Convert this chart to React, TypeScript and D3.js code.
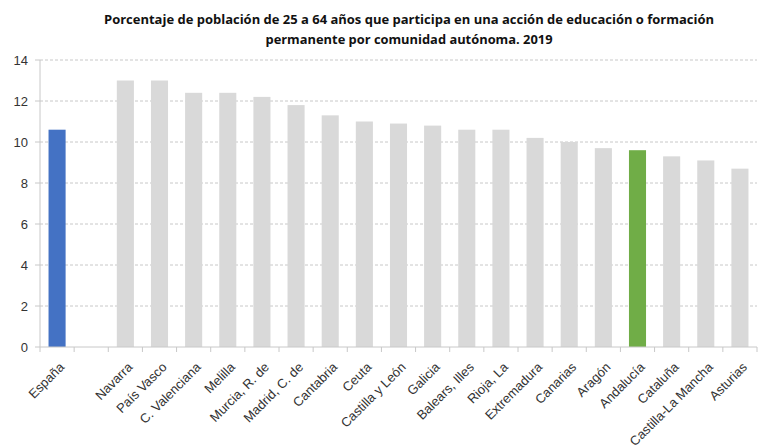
import React from "react";
import * as d3 from "d3";

const categories = [
  "España", "", "Navarra", "País Vasco", "C. Valenciana", "Melilla", "Murcia, R. de",
  "Madrid, C. de", "Cantabria", "Ceuta", "Castilla y León", "Galicia", "Balears, Illes",
  "Rioja, La", "Extremadura", "Canarias", "Aragón", "Andalucía", "Cataluña",
  "Castilla-La Mancha", "Asturias",
];
const values: (number | null)[] = [
  10.6, null, 13.0, 13.0, 12.4, 12.4, 12.2, 11.8, 11.3, 11.0, 10.9, 10.8, 10.6, 10.6,
  10.2, 10.0, 9.7, 9.6, 9.3, 9.1, 8.7,
];
const yTicks = [0, 2, 4, 6, 8, 10, 12, 14];
const titleLines = [
  "Porcentaje de población de 25 a 64 años que participa en una acción de educación o formación",
  "permanente por comunidad autónoma. 2019",
];

const W = 758, H = 447;
const left = 40, right = 757, top = 60, bottom = 347;

export default function App() {
  const x = d3.scaleBand<number>().domain(d3.range(categories.length)).range([left, right]).paddingInner(0.5).paddingOuter(0.25);
  const y = d3.scaleLinear().domain([0, 14]).range([bottom, top]);
  const step = x.step();
  const colorFor = (c: string) => (c === "España" ? "#4472C4" : c === "Andalucía" ? "#70AD47" : "#D9D9D9");
  const font = "Liberation Sans, Arial, sans-serif";
  return (
    <svg width={W} height={H} style={{ position: "absolute", left: 0, top: 0, background: "#fff" }}>
      <g>
        {titleLines.map((t, i) => (
          <text key={i} x={409} y={24 + i * 20} textAnchor="middle" fontFamily="Open Sans, sans-serif"
            fontWeight="bold" fontSize={13} fill="#111"
            textLength={i === 0 ? 610 : 287} lengthAdjust="spacingAndGlyphs">{t}</text>
        ))}
      </g>
      {yTicks.map((t) => (
        <g key={t}>
          {t > 0 && (
            <line x1={left} x2={right} y1={y(t)} y2={y(t)} stroke="#C8C8C8" strokeDasharray="3,2" strokeWidth={1} />
          )}
          <line x1={left - 5} x2={left} y1={y(t)} y2={y(t)} stroke="#C8C8C8" />
          <text x={28} y={y(t)} dy="0.35em" textAnchor="end" fontFamily={font} fontSize={13} fill="#333">{t}</text>
        </g>
      ))}
      {values.map((v, i) =>
        v == null ? null : (
          <rect key={i} x={x(i)!} width={x.bandwidth()} y={y(v)} height={y(0) - y(v)} fill={colorFor(categories[i])} />
        )
      )}
      <line x1={left} x2={left} y1={top} y2={bottom} stroke="#C8C8C8" />
      <line x1={left} x2={right} y1={bottom} y2={bottom} stroke="#C8C8C8" />
      {d3.range(categories.length + 1).map((i) => (
        <line key={i} x1={left + i * step} x2={left + i * step} y1={bottom} y2={bottom + 5} stroke="#C8C8C8" />
      ))}
      {categories.map((c, i) => {
        const cx = x(i)! + x.bandwidth() / 2 + 8;
        const cy = bottom + 21;
        return (
          <text key={i} transform={`translate(${cx},${cy}) rotate(-45)`} textAnchor="end"
            fontFamily={font} fontSize={13} fill="#333">{c}</text>
        );
      })}
    </svg>
  );
}
